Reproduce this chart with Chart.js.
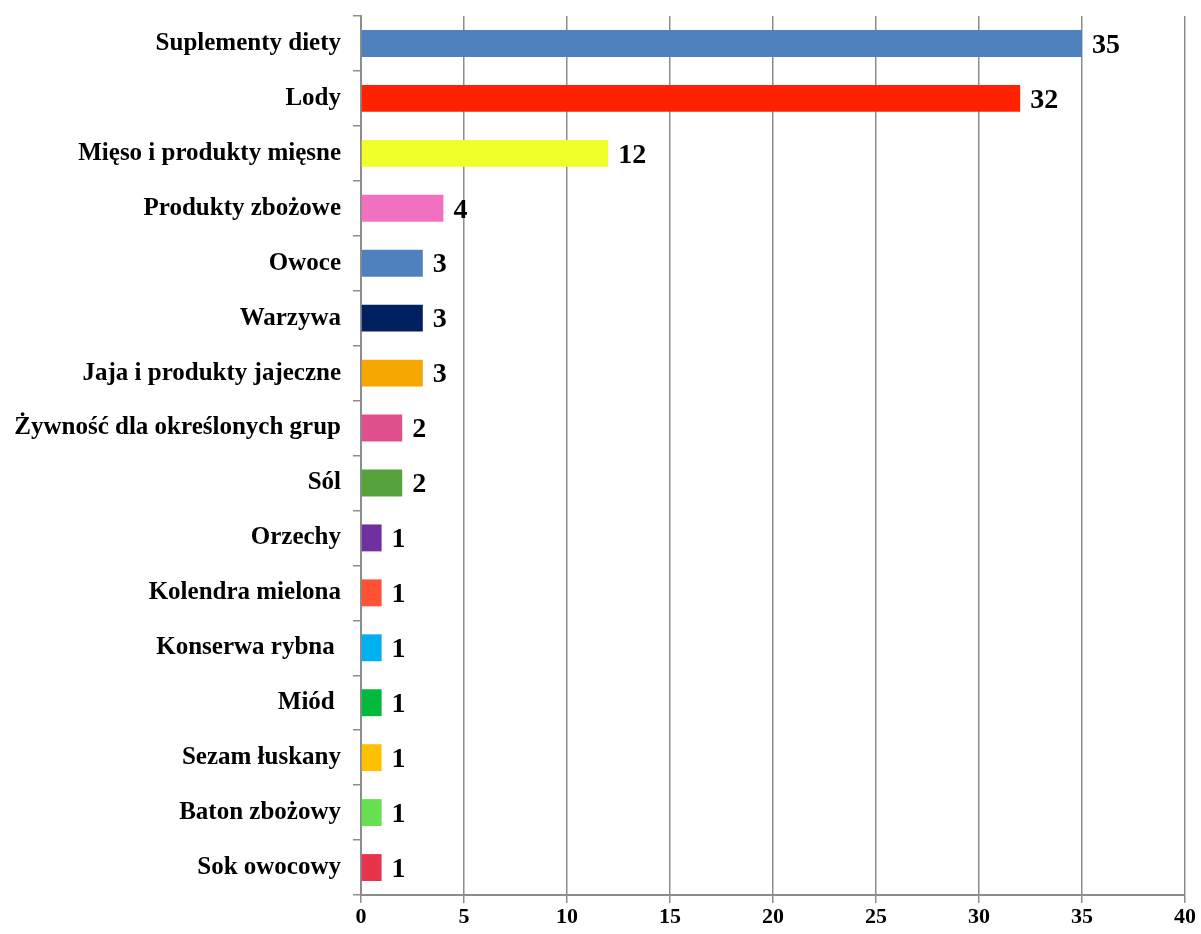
<!DOCTYPE html>
<html>
<head>
<meta charset="utf-8">
<script src="https://cdn.jsdelivr.net/npm/chart.js@4"></script>
<style>
  html, body { margin: 0; padding: 0; background: #fff; }
  #wrap { width: 1201px; height: 934px; }
</style>
</head>
<body>
<div id="wrap"><canvas id="myChart" width="1201" height="934"></canvas></div>
<script>
// categories and counts
var categories = [
    'Suplementy diety', 'Lody', 'Mięso i produkty mięsne', 'Produkty zbożowe',
    'Owoce', 'Warzywa', 'Jaja i produkty jajeczne', 'Żywność dla określonych grup',
    'Sól', 'Orzechy', 'Kolendra mielona', 'Konserwa rybna ', 'Miód ',
    'Sezam łuskany', 'Baton zbożowy', 'Sok owocowy'
];
var counts = [35, 32, 12, 4, 3, 3, 3, 2, 2, 1, 1, 1, 1, 1, 1, 1];
var barColors = [
    '#4f81bd', '#ff2200', '#eeff2a', '#f270c0', '#4f81bd', '#002060',
    '#f5a800', '#e0508c', '#56a33e', '#7030a0', '#ff5234', '#00b0f0',
    '#00b83a', '#ffc000', '#66e050', '#e8344a'
];
var xTicks = [0, 5, 10, 15, 20, 25, 30, 35, 40];

var fontFamily = '"Liberation Serif", "Times New Roman", serif';

// draws the number at the end of each bar
var valueLabels = {
    id: 'valueLabels',
    afterDatasetsDraw: function (chart) {
        var ctx = chart.ctx;
        var meta = chart.getDatasetMeta(0);
        ctx.save();
        ctx.font = 'bold 28px ' + fontFamily;
        ctx.fillStyle = '#000';
        ctx.textAlign = 'left';
        ctx.textBaseline = 'middle';
        meta.data.forEach(function (bar, i) {
            ctx.fillText(String(counts[i]), bar.x + 10, bar.y + 2);
        });
        ctx.restore();
    }
};

const ctx = document.getElementById('myChart');

new Chart(ctx, {
    type: 'bar',
    data: {
        labels: categories,
        datasets: [{
            data: counts,
            backgroundColor: barColors,
            borderWidth: 0,
            barPercentage: 0.49,
            categoryPercentage: 1
        }]
    },
    options: {
        indexAxis: 'y',
        responsive: false,
        animation: false,
        layout: {
            padding: { top: 16, right: 16, left: 0, bottom: 0 }
        },
        plugins: {
            legend: { display: false },
            tooltip: { enabled: false }
        },
        scales: {
            x: {
                min: 0,
                max: 40,
                afterBuildTicks: function (scale) {
                    scale.ticks = xTicks.map(v => ({ value: v }));
                },
                afterFit: function (scale) {
                    scale.height = 39;
                    scale.paddingLeft = 0;
                    scale.paddingRight = 0;
                },
                grid: {
                    color: '#8c8c8c',
                    lineWidth: 1.5,
                    tickLength: 8
                },
                border: { color: '#8c8c8c', width: 2 },
                ticks: {
                    color: '#000',
                    padding: 1,
                    font: { family: fontFamily, size: 22, weight: 'bold' }
                }
            },
            y: {
                afterFit: function (scale) {
                    scale.width = 361;
                    scale.paddingTop = 0;
                    scale.paddingBottom = 0;
                },
                grid: {
                    drawOnChartArea: false,
                    color: '#8c8c8c',
                    lineWidth: 1.5,
                    tickLength: 8
                },
                border: { color: '#8c8c8c', width: 2 },
                ticks: {
                    color: '#000',
                    padding: 12,
                    autoSkip: false,
                    font: { family: fontFamily, size: 25, weight: 'bold' }
                }
            }
        }
    },
    plugins: [valueLabels]
});
</script>
</body>
</html>
